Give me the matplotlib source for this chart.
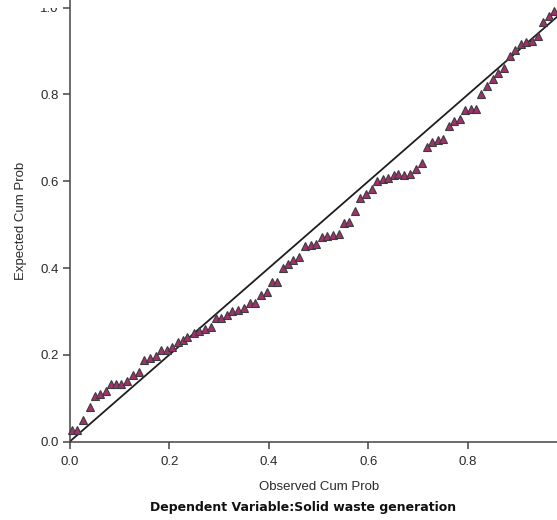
import matplotlib.pyplot as plt
from matplotlib.transforms import Bbox

# P-P plot of regression standardized residuals
observed = [0.004, 0.015, 0.027, 0.040, 0.051, 0.061, 0.073, 0.084, 0.094, 0.104,
            0.116, 0.128, 0.139, 0.150, 0.161, 0.173, 0.184, 0.195, 0.206, 0.217,
            0.228, 0.236, 0.250, 0.260, 0.272, 0.283, 0.294, 0.305, 0.317, 0.327,
            0.339, 0.350, 0.362, 0.372, 0.384, 0.396, 0.406, 0.417, 0.428, 0.439,
            0.449, 0.461, 0.473, 0.484, 0.495, 0.506, 0.516, 0.528, 0.540, 0.550,
            0.561, 0.573, 0.583, 0.595, 0.607, 0.617, 0.629, 0.640, 0.652, 0.660,
            0.671, 0.684, 0.696, 0.707, 0.717, 0.728, 0.739, 0.750, 0.762, 0.772,
            0.784, 0.794, 0.806, 0.817, 0.827, 0.839, 0.850, 0.861, 0.873, 0.884,
            0.895, 0.906, 0.917, 0.929, 0.940, 0.950, 0.962, 0.972]
expected = [0.027, 0.027, 0.050, 0.080, 0.105, 0.111, 0.117, 0.132, 0.134, 0.134,
            0.139, 0.153, 0.161, 0.188, 0.192, 0.197, 0.211, 0.211, 0.219, 0.230,
            0.234, 0.242, 0.251, 0.256, 0.259, 0.264, 0.285, 0.285, 0.292, 0.300,
            0.304, 0.308, 0.319, 0.319, 0.338, 0.346, 0.367, 0.369, 0.401, 0.410,
            0.419, 0.425, 0.450, 0.452, 0.455, 0.471, 0.474, 0.477, 0.479, 0.504,
            0.507, 0.532, 0.561, 0.571, 0.582, 0.600, 0.605, 0.608, 0.615, 0.617,
            0.614, 0.617, 0.629, 0.642, 0.680, 0.690, 0.696, 0.698, 0.728, 0.738,
            0.744, 0.764, 0.767, 0.767, 0.802, 0.819, 0.836, 0.850, 0.861, 0.888,
            0.902, 0.915, 0.921, 0.923, 0.934, 0.966, 0.980, 0.993]
x_ticks = [0.0, 0.2, 0.4, 0.6, 0.8]
x_tick_labels = ["0.0", "0.2", "0.4", "0.6", "0.8"]
y_ticks = [0.0, 0.2, 0.4, 0.6, 0.8, 1.0]
y_tick_labels = ["0.0", "0.2", "0.4", "0.6", "0.8", "1.0"]

plt.rcParams['font.family'] = ['Liberation Sans', 'DejaVu Sans']

fig = plt.figure(figsize=(5.57, 5.2), dpi=100)
# plot frame runs past the right edge of the canvas
ax = fig.add_axes([69.6 / 557, 78.3 / 520, 498 / 557, 441.7 / 520])

ax.plot([0, 1], [0, 1], color='#1e1e1e', linewidth=1.3, zorder=2)
ax.plot(observed, expected, linestyle='none', marker='^', markersize=6.2,
        markerfacecolor='#a3306e', markeredgecolor='#3c3c3c',
        markeredgewidth=0.8, zorder=3, clip_on=False)

ax.set_xlim(0, 1)
ax.set_ylim(0, 1.0175)
ax.set_xticks(x_ticks)
ax.set_xticklabels(x_tick_labels)
ax.set_yticks(y_ticks)
ax.set_yticklabels(y_tick_labels)

for side in ['top', 'right']:
    ax.spines[side].set_visible(False)
for side in ['left', 'bottom']:
    ax.spines[side].set_color('#444444')
    ax.spines[side].set_linewidth(1.1)

ax.tick_params(axis='both', direction='out', length=5, width=1.1,
               color='#444444', labelsize=9.5, labelcolor='#2a2a2a')
ax.tick_params(axis='x', pad=5)
ax.tick_params(axis='y', pad=3)

# top label sits under the upper edge of the canvas, show only its lower part
top_label = ax.yaxis.get_major_ticks()[-1].label1
top_label.set_clip_box(Bbox([[0, 0], [557, 512]]))
top_label.set_clip_on(True)

ax.set_xlabel("Observed Cum Prob", fontsize=9.5, color='#2a2a2a', labelpad=10)
ax.set_ylabel("Expected Cum Prob", fontsize=9.5, color='#2a2a2a', labelpad=9)

fig.text(303 / 557, 1 - 507 / 520, "Dependent Variable:Solid waste generation",
         ha='center', va='center', fontsize=9, fontweight='bold',
         color='#111111', family=['DejaVu Sans'])

fig.savefig("out.png", dpi=100)
